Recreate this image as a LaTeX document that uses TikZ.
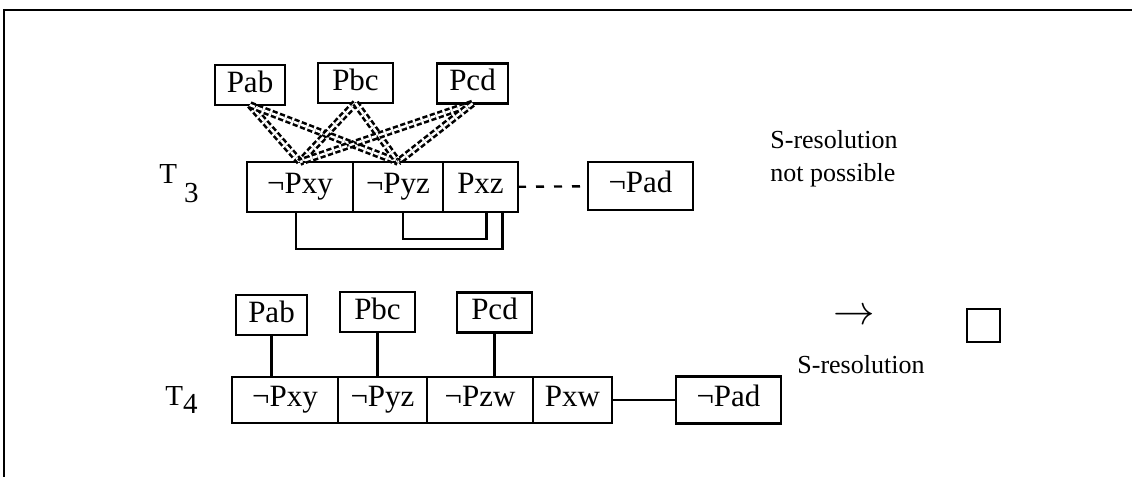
\documentclass[tikz,border=0pt]{standalone}
\usepackage{fontspec}
\setmainfont{Liberation Serif}
\usepackage{tikz}
\usetikzlibrary{positioning}

\tikzset{
  lit/.style={draw, line width=1.2pt, outer sep=0pt, inner sep=0pt,
    font=\fontsize{15.5}{17}\selectfont, text height=10pt, text depth=3.5pt,
    minimum height=25pt},
  unitlit/.style={lit, minimum height=20pt, text depth=3pt},
  link/.style={line width=1.2pt},
  tryres/.style={double, line width=1.3pt, double distance=1.2pt,
    dash pattern=on 2.6pt off 1.3pt},
  tlabel/.style={font=\fontsize{14.5}{16}\selectfont, anchor=base west, inner sep=0pt},
  remark/.style={font=\fontsize{13}{16.5}\selectfont, align=left, inner sep=0pt},
}

\begin{document}
\begin{tikzpicture}[x=0.5pt,y=-0.5pt]

\useasboundingbox (0,0) rectangle (1132,477);

% Cornice
\draw[line width=1.2pt] (1132,10) -- (4,10) -- (4,477);

% Tableau T3
\node[tlabel] (lab3) at (159,183) {T\kern3.5pt\raisebox{-9.5pt}{3}};

\node[lit, minimum width=53pt, anchor=west] (t3xy) at (247,187) {¬Pxy};
\node[lit, minimum width=45pt, right=0pt of t3xy] (t3yz) {¬Pyz};
\node[lit, minimum width=37.5pt, right=0pt of t3yz] (t3xz) {Pxz};
\node[lit, minimum width=52.5pt, minimum height=24pt] (t3pad) at (640.5,186) {¬Pad};

\node[unitlit, minimum width=35pt] (u3ab) at (250,85) {Pab};
\node[unitlit, minimum width=37.5pt] (u3bc) at (355.5,83) {Pbc};
\node[unitlit, minimum width=35.5pt] (u3cd) at (472.5,83.5) {Pcd};

% Tentativi di risoluzione
\foreach \u in {u3ab,u3bc,u3cd}{
  \draw[tryres] (\u.south) -- (t3xy.north);
  \draw[tryres] (\u.south) -- (t3yz.north);
}

\draw[link, dash pattern=on 4pt off 5pt] (t3xz) -- (t3pad);

% Collegamenti sotto T3
\draw[link] ([xshift=-2pt]t3xy.south) -- ++(0,37) -| ([xshift=11pt]t3xz.south);
\draw[link] ([xshift=2.5pt]t3yz.south) -- ++(0,27) -| ([xshift=3pt]t3xz.south);

\node[remark, anchor=base west] (nores) at (770,181) {S-resolution\\not possible};

% Tableau T4
\node[tlabel] (lab4) at (165,405) {T\raisebox{-4pt}{4}};

\node[lit, minimum width=53pt, minimum height=23pt, anchor=west] (t4xy) at (232,400) {¬Pxy};
\node[lit, minimum width=44.5pt, minimum height=23pt, right=0pt of t4xy] (t4yz) {¬Pyz};
\node[lit, minimum width=53pt, minimum height=23pt, right=0pt of t4yz] (t4zw) {¬Pzw};
\node[lit, minimum width=39.5pt, minimum height=23pt, right=0pt of t4zw] (t4xw) {Pxw};
\node[lit, minimum width=52.5pt, minimum height=23.5pt] (t4pad) at (728.5,400) {¬Pad};

\node[unitlit, minimum width=35.5pt] (u4ab) at (271.5,315) {Pab};
\node[unitlit, minimum width=37.5pt] (u4bc) at (377.5,312) {Pbc};
\node[unitlit, minimum width=37.5pt] (u4cd) at (494.5,312.5) {Pcd};

\draw[link] (u4ab) -- (u4ab |- t4xy.north);
\draw[link] (u4bc) -- (u4bc |- t4yz.north);
\draw[link] (u4cd) -- (u4cd |- t4zw.north);
\draw[link] (t4xw) -- (t4pad);

% Risultato
\node[font=\fontsize{20}{20}\selectfont, inner sep=0pt] (step4) at (854,317) {$\rightarrow$};
\node[remark, anchor=base west] (sres) at (797,373) {S-resolution};
\node[draw, line width=1.2pt, minimum size=16.5pt, inner sep=0pt] (empty) at (983.5,325.5) {};

\end{tikzpicture}
\end{document}
